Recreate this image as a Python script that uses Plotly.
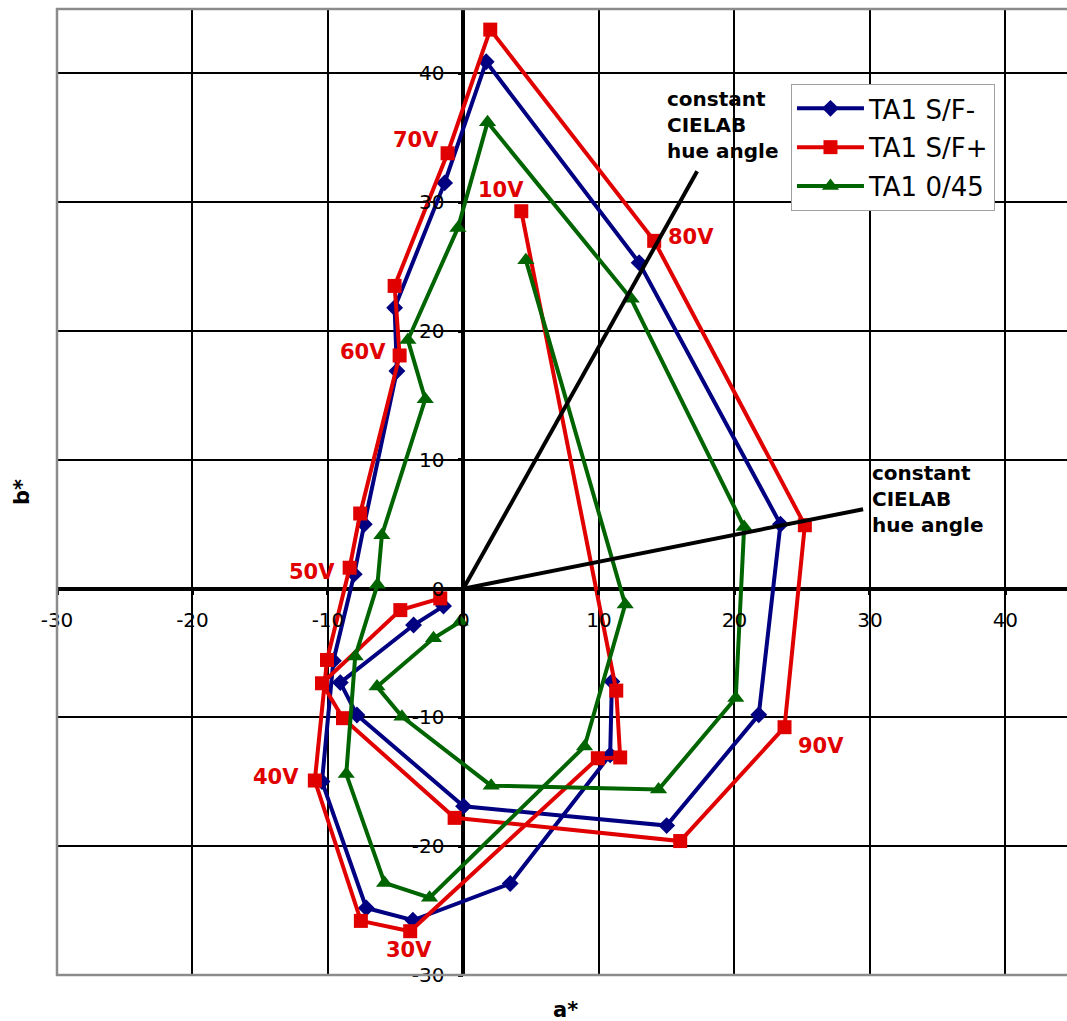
import plotly.graph_objects as go

FONT = "DejaVu Sans"
RED = "#e00000"
NAVY = "#000080"
GREEN = "#006400"

# --- TA1 S/F- (diamonds), in measurement order ---
sf_minus_a = [10.96, 10.83, 3.45, -3.73, -7.17, -10.44, -9.60, -8.06, -7.32, -4.91, -5.08,
              -1.39, 1.68, 12.97, 23.40, 21.80, 15.00, 0.01, -7.86, -9.09, -3.68, -1.47]
sf_minus_b = [-7.22, -12.91, -22.90, -25.75, -24.80, -14.98, -5.60, 1.12, 5.00, 16.90, 21.80,
              31.50, 40.90, 25.30, 5.00, -9.80, -18.40, -16.90, -9.81, -7.30, -2.83, -1.36]

# --- TA1 S/F+ (squares) ---
sf_plus_a = [4.27, 11.28, 11.57, 9.92, -3.93, -7.57, -10.97, -10.07, -8.40, -7.62, -4.71, -5.08,
             -1.17, 1.98, 14.08, 25.20, 23.70, 16.00, -0.65, -8.89, -10.44, -4.66, -1.71]
sf_plus_b = [29.30, -7.92, -13.11, -13.17, -26.60, -25.80, -14.90, -5.54, 1.62, 5.83, 18.10, 23.50,
             33.80, 43.40, 27.00, 4.92, -10.76, -19.60, -17.80, -10.06, -7.35, -1.67, -0.76]

# --- TA1 0/45 (triangles) ---
g045_a = [4.61, 11.94, 8.94, -2.50, -5.82, -8.65, -7.99, -6.35, -6.02, -2.82, -4.10,
          -0.41, 1.78, 12.38, 20.72, 20.10, 14.40, 2.05, -4.54, -6.38, -2.21, -0.24]
g045_b = [25.50, -1.23, -12.26, -24.00, -22.85, -14.40, -5.28, 0.30, 4.15, 14.70, 19.30,
          28.00, 36.20, 22.50, 4.79, -8.50, -15.60, -15.30, -9.94, -7.61, -3.86, -2.57]

# constant hue-angle reference lines from the origin
hue1_a = [0, 17.25]
hue1_b = [0, 32.4]
hue2_a = [0, 29.5]
hue2_b = [0, 6.16]

# drive-voltage labels
volt_text = ["10V", "30V", "40V", "50V", "60V", "70V", "80V", "90V"]
volt_a = [2.78, -4.01, -13.85, -11.18, -7.45, -3.50, 16.78, 26.36]
volt_b = [30.97, -28.02, -14.64, 1.30, 18.36, 34.82, 27.27, -12.21]

tick_vals = [-30, -20, -10, 0, 10, 20, 30, 40]
tick_text = ["-30", "-20", "-10", "0", "10", "20", "30", "40"]

fig = go.Figure()

series = [
    ("TA1 S/F-", sf_minus_a, sf_minus_b, NAVY, "diamond", 13),
    ("TA1 S/F+", sf_plus_a, sf_plus_b, RED, "square", 14),
    ("TA1 0/45", g045_a, g045_b, GREEN, "triangle-up", 15),
]
for name, xa, yb, col, sym, sz in series:
    fig.add_trace(go.Scatter(
        x=xa, y=yb, mode="lines+markers", name=name, legendgroup=name,
        line=dict(color=col, width=4),
        marker=dict(symbol=sym, size=sz, color=col),
    ))

for ha, hb in [(hue1_a, hue1_b), (hue2_a, hue2_b)]:
    fig.add_trace(go.Scatter(x=ha, y=hb, mode="lines", showlegend=False,
                             line=dict(color="black", width=4), hoverinfo="skip"))

for t, xa, yb in zip(volt_text, volt_a, volt_b):
    fig.add_annotation(x=xa, y=yb, text=t, showarrow=False,
                       font=dict(family=FONT, size=21, color=RED, weight="bold"),
                       xanchor="center", yanchor="middle")

hue_note = "constant<br>CIELAB<br>hue angle"
for xa, yb in [(14.86, 36.02), (30.02, 6.96)]:
    fig.add_annotation(x=xa, y=yb, text=hue_note, showarrow=False, align="left",
                       xanchor="left", yanchor="middle",
                       font=dict(family=FONT, size=20, color="black", weight="bold"))

# axis titles
fig.add_annotation(x=7.5, xref="x", y=-0.036, yref="paper", text="a*", showarrow=False,
                   font=dict(family=FONT, size=21, color="black", weight="bold"),
                   xanchor="center", yanchor="middle")
fig.add_annotation(x=-0.0347, xref="paper", y=0.5, yref="paper", text="b*", showarrow=False,
                   textangle=-90,
                   font=dict(family=FONT, size=21, color="black", weight="bold"),
                   xanchor="center", yanchor="middle")

# plot-area frame (right side runs off the page)
fig.add_shape(type="rect", xref="x domain", yref="y domain", x0=0, x1=1.05, y0=0, y1=1,
              line=dict(color="#8c8c8c", width=2.5), layer="above")

axis_common = dict(
    tickvals=tick_vals, ticktext=tick_text,
    showgrid=True, gridcolor="black", gridwidth=2,
    zeroline=True, zerolinecolor="black", zerolinewidth=4,
    showline=False, ticks="outside", ticklen=5, tickwidth=3, tickcolor="black",
    tickfont=dict(family=FONT, size=20, color="black"),
    anchor="free",
)

fig.update_layout(
    width=1067, height=1021,
    margin=dict(l=57, r=0, t=9, b=46),
    paper_bgcolor="white", plot_bgcolor="white",
    font=dict(family=FONT, color="black"),
    xaxis=dict(range=[-30, 44.55], position=0.4, ticklabelstandoff=8, **axis_common),
    yaxis=dict(range=[-30, 45], position=0.4024, ticklabelstandoff=10, **axis_common),
    legend=dict(x=0.7267, y=0.9224, xanchor="left", yanchor="top",
                bgcolor="white", bordercolor="#a0a0a0", borderwidth=1,
                font=dict(family=FONT, size=26, color="black"),
                itemwidth=67, tracegroupgap=2),
    showlegend=True,
)

fig.write_html("out.html")
